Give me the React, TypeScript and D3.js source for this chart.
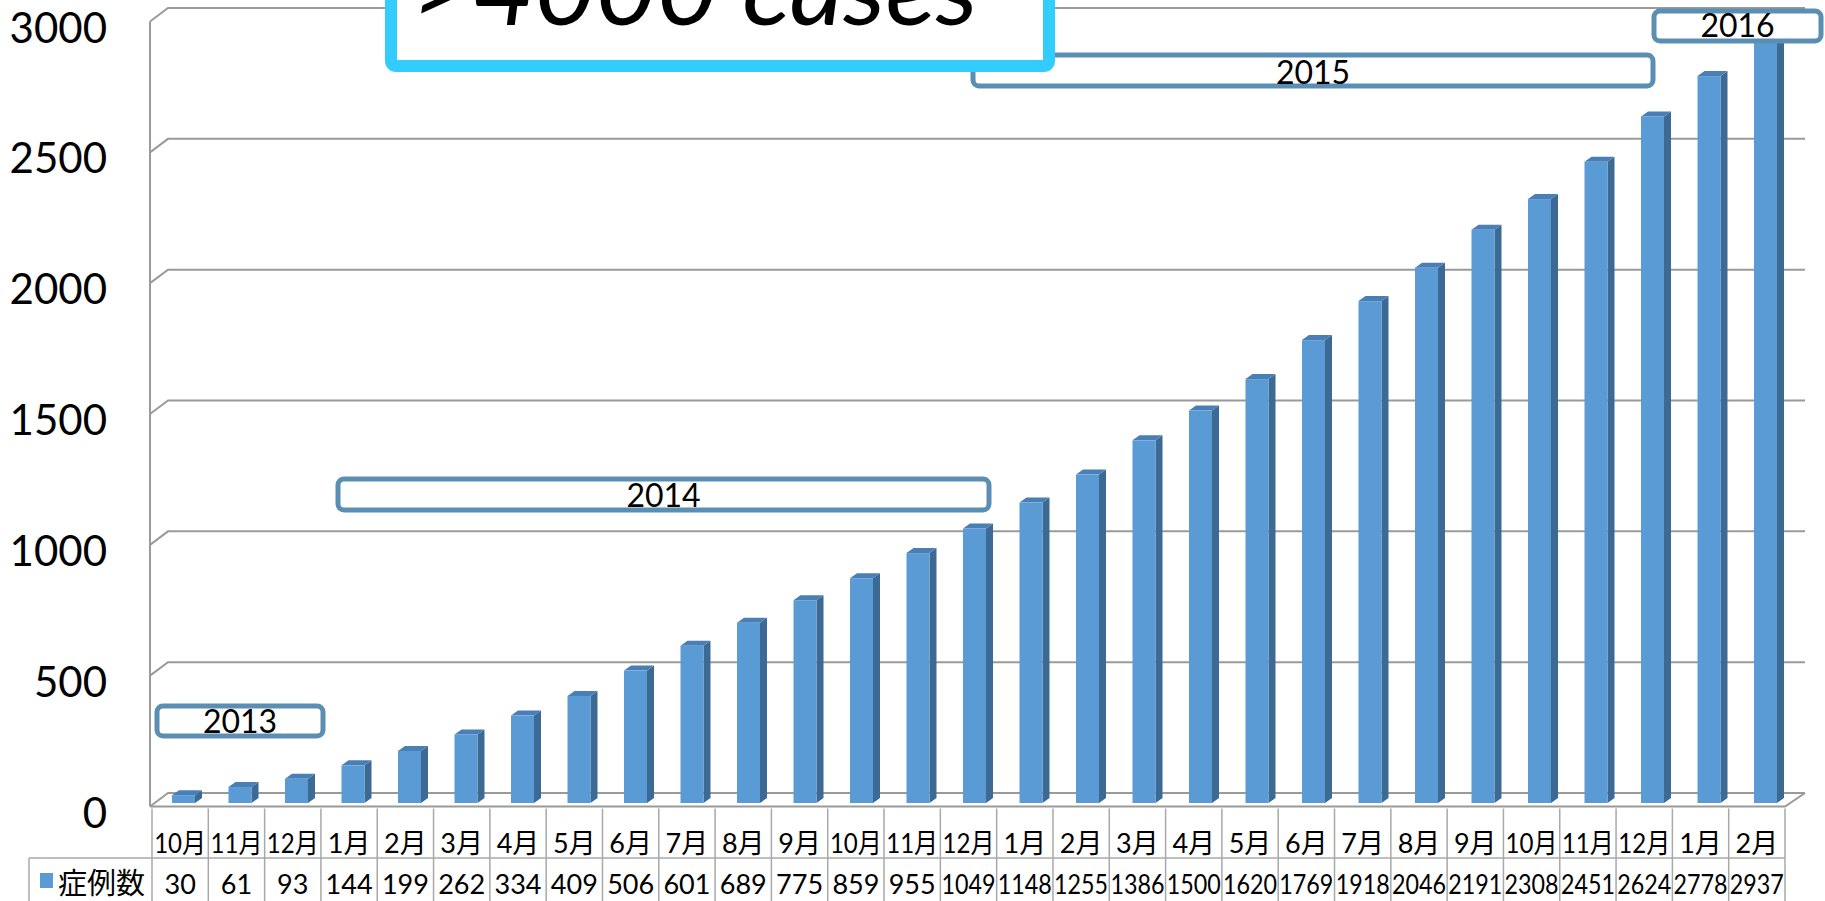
import React from "react";
import * as d3 from "d3";

// monthly cumulative case counts, Oct 2013 - Feb 2016
const months = [
  "10月", "11月", "12月",
  "1月", "2月", "3月", "4月", "5月", "6月", "7月", "8月", "9月", "10月", "11月", "12月",
  "1月", "2月", "3月", "4月", "5月", "6月", "7月", "8月", "9月", "10月", "11月", "12月",
  "1月", "2月",
];
const cases = [
  30, 61, 93,
  144, 199, 262, 334, 409, 506, 601, 689, 775, 859, 955, 1049,
  1148, 1255, 1386, 1500, 1620, 1769, 1918, 2046, 2191, 2308, 2451, 2624,
  2778, 2937,
];
const yTicks = [0, 500, 1000, 1500, 2000, 2500, 3000];
const seriesName = "症例数";
const years = ["2013", "2014", "2015", "2016"];
const headline = ">4000 cases";

// annotation boxes (hand placed in the original slide)
const yearBoxes = [
  { x0: 157, x1: 323, y0: 706, y1: 736, ty: 733 },
  { x0: 338, x1: 989, y0: 479, y1: 510, ty: 507 },
  { x0: 973, x1: 1653, y0: 55, y1: 86, ty: 84 },
  { x0: 1654, x1: 1821, y0: 11, y1: 41, ty: 37 },
];

const W = 1825;
const H = 901;
const FONT = "Lato, 'Noto Sans CJK JP', sans-serif";

// 3d frame
const wallX = 150;
const depthX = 18;
const depthY = 13.5;
const backRight = 1805;
const barW = 23;
const barDX = 7;
const barDY = 5;

const grid = "#9a9a9a";
const tableLine = "#a8a8a8";
const front = "#5b9bd5";
const side = "#3c6a94";
const top = "#4a7fb5";
const boxStroke = "#5a8fb3";

export default function App() {
  const idx = months.map((_, i) => i);

  const yBack = d3.scaleLinear().domain([0, 3000]).range([793, 8]);
  const yFront = (v: number) => yBack(v) + depthY;
  const yBar = d3.scaleLinear().domain([0, 3000]).range([803, 18]);

  const xBar = d3.scaleBand<number>().domain(idx).range([wallX, wallX + 29 * 56.5]);
  const xCol = d3.scaleBand<number>().domain(idx).range([152, 1785]);

  const floorY = yFront(0);

  return (
    <svg
      width={W}
      height={H}
      style={{ position: "absolute", left: 0, top: 0, background: "#fff" }}
      fontFamily={FONT}
    >
      {/* gridlines on side + back wall */}
      {yTicks.map((t) => (
        <path
          key={t}
          d={`M${wallX},${yFront(t)}L${wallX + depthX},${yBack(t)}L${backRight},${yBack(t)}`}
          fill="none"
          stroke={grid}
          strokeWidth={2}
        />
      ))}
      <line x1={wallX} x2={wallX} y1={yFront(3000)} y2={floorY} stroke={grid} strokeWidth={2} />
      <path
        d={`M${wallX},${floorY}L${xCol.range()[1]},${floorY}L${backRight},${yBack(0)}`}
        fill="none"
        stroke={grid}
        strokeWidth={2}
      />

      {/* y axis labels */}
      {yTicks.map((t) => (
        <text
          key={t}
          x={107}
          y={yFront(t) + 5}
          textAnchor="end"
          dominantBaseline="central"
          fontSize={42}
          fill="#000"
        >
          {t}
        </text>
      ))}

      {/* 3d columns */}
      {cases.map((v, i) => {
        const x = (xBar(i) as number) + 22;
        const yt = yBar(v);
        const yb = yBar(0);
        return (
          <g key={i}>
            <path
              d={`M${x + barW},${yt}L${x + barW + barDX},${yt - barDY}L${x + barW + barDX},${yb - barDY}L${x + barW},${yb}Z`}
              fill={side}
            />
            <path
              d={`M${x},${yt}L${x + barDX},${yt - barDY}L${x + barW + barDX},${yt - barDY}L${x + barW},${yt}Z`}
              fill={top}
            />
            <rect x={x} y={yt} width={barW} height={yb - yt} fill={front} />
          </g>
        );
      })}

      {/* data table */}
      {d3.range(30).map((k) => {
        const x = k < 29 ? (xCol(k) as number) : xCol.range()[1];
        return <line key={k} x1={x} x2={x} y1={floorY + 2} y2={H} stroke={tableLine} strokeWidth={1.5} />;
      })}
      <line x1={29} x2={xCol.range()[1]} y1={858} y2={858} stroke={tableLine} strokeWidth={1.5} />
      <line x1={29} x2={29} y1={858} y2={H} stroke={tableLine} strokeWidth={1.5} />
      {months.map((m, i) => (
        <text
          key={i}
          x={(xCol(i) as number) + xCol.bandwidth() / 2}
          y={853}
          textAnchor="middle"
          fontSize={27}
          textLength={m.length > 2 ? 52 : undefined}
          lengthAdjust="spacingAndGlyphs"
        >
          {m}
        </text>
      ))}
      {cases.map((v, i) => (
        <text
          key={i}
          x={(xCol(i) as number) + xCol.bandwidth() / 2}
          y={894}
          textAnchor="middle"
          fontSize={27}
          textLength={v >= 1000 ? 54 : undefined}
          lengthAdjust="spacingAndGlyphs"
        >
          {v}
        </text>
      ))}
      <rect x={40} y={873} width={13} height={15} fill={front} />
      <text x={58} y={894} fontSize={29}>
        {seriesName}
      </text>

      {/* year annotations */}
      {years.map((y, i) => {
        const b = yearBoxes[i];
        return (
          <g key={y}>
            <rect
              x={b.x0}
              y={b.y0}
              width={b.x1 - b.x0}
              height={b.y1 - b.y0}
              rx={6}
              fill="#fff"
              stroke={boxStroke}
              strokeWidth={5}
            />
            <text x={(b.x0 + b.x1) / 2} y={b.ty} textAnchor="middle" fontSize={32}>
              {y}
            </text>
          </g>
        );
      })}

      {/* headline box */}
      <rect x={391} y={-30} width={658} height={96} rx={5} fill="#fff" stroke="#33ccff" strokeWidth={12} />
      <text
        x={412}
        y={25}
        fontSize={100}
        fontStyle="italic"
        textLength={566}
        lengthAdjust="spacingAndGlyphs"
      >
        {headline}
      </text>
    </svg>
  );
}
